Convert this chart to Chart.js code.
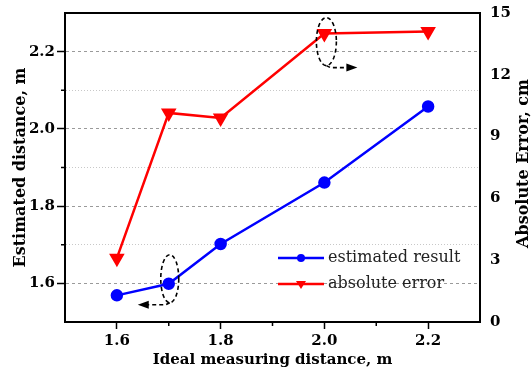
<!DOCTYPE html>
<html>
<head>
<meta charset="utf-8">
<script src="https://cdn.jsdelivr.net/npm/chart.js@4/dist/chart.umd.min.js"></script>
<style>
  html, body { margin: 0; padding: 0; background: #fff; }
  canvas { display: block; }
</style>
</head>
<body>
<canvas id="chart" width="532" height="373"></canvas>
<script>
// ideal distances (m)
const distances = [1.6, 1.7, 1.8, 2.0, 2.2];
// estimated distance (m), left axis
const estimated = [1.569, 1.599, 1.702, 1.861, 2.058];
// absolute error (cm), right axis
const absError = [3.1, 10.15, 9.9, 14.0, 14.1];

const xTicks = [1.6, 1.8, 2.0, 2.2];
const leftTicks = [1.6, 1.8, 2.0, 2.2];
const rightTitle = 'Absolute Error, cm';

const serif = '"DejaVu Serif", serif';
const tickFont = { family: serif, size: 15, weight: 'bold' };
const titleFont = { family: serif, size: 15, weight: 'bold' };
const yTitleFont = { family: serif, size: 16, weight: 'bold' };

const isMajor = (v, list) => list.some(t => Math.abs(t - v) < 1e-6);

// fixed axis widths; no extra room for labels overhanging the ends
const fitVertical = width => s => {
  s.width = width;
  s.paddingTop = 0;
  s.paddingBottom = 0;
};

// frame on top of the plot area, minor ticks, right-hand title
const framePlugin = {
  id: 'frame',
  afterDraw(chart) {
    const { ctx, chartArea: a, scales } = chart;
    ctx.save();
    ctx.strokeStyle = '#000';
    ctx.lineWidth = 2;
    ctx.beginPath();
    ctx.moveTo(a.left, a.top);
    ctx.lineTo(a.right, a.top);
    ctx.stroke();

    ctx.lineWidth = 1.5;
    [1.7, 1.9, 2.1].forEach(v => {
      const x = scales.x.getPixelForValue(v);
      ctx.beginPath();
      ctx.moveTo(x, a.bottom);
      ctx.lineTo(x, a.bottom + 4);
      ctx.stroke();
      const y = scales.y.getPixelForValue(v);
      ctx.beginPath();
      ctx.moveTo(a.left, y);
      ctx.lineTo(a.left - 4, y);
      ctx.stroke();
    });

    // rotated the same way as the left title
    ctx.translate(524, (a.top + a.bottom) / 2 - 4);
    ctx.rotate(-Math.PI / 2);
    ctx.font = 'bold 16px ' + serif;
    ctx.fillStyle = '#000';
    ctx.textAlign = 'center';
    ctx.textBaseline = 'middle';
    ctx.fillText(rightTitle, 0, 0);
    ctx.restore();
  }
};

// dashed ellipses with arrows telling which axis each series uses
const markPlugin = {
  id: 'marks',
  afterDatasetsDraw(chart) {
    const { ctx, scales } = chart;
    const arrowHead = (x, y, dir) => {
      ctx.beginPath();
      ctx.moveTo(x, y);
      ctx.lineTo(x - dir * 11, y - 4);
      ctx.lineTo(x - dir * 11, y + 4);
      ctx.closePath();
      ctx.fill();
    };
    ctx.save();
    ctx.strokeStyle = '#000';
    ctx.fillStyle = '#000';
    ctx.lineWidth = 1.6;
    ctx.setLineDash([4, 3]);

    // estimated result -> left axis
    let cx = scales.x.getPixelForValue(distances[1]) + 1;
    let cy = scales.y.getPixelForValue(estimated[1]) - 5;
    ctx.beginPath();
    ctx.ellipse(cx, cy, 9, 24, 0, 0, Math.PI * 2);
    ctx.stroke();
    ctx.beginPath();
    ctx.moveTo(cx, cy + 24);
    ctx.lineTo(cx - 4, cy + 26);
    ctx.lineTo(cx - 22, cy + 26);
    ctx.stroke();
    ctx.setLineDash([]);
    arrowHead(cx - 32, cy + 26, -1);

    // absolute error -> right axis
    ctx.setLineDash([4, 3]);
    cx = scales.x.getPixelForValue(distances[3]) + 2;
    cy = scales.y2.getPixelForValue(absError[3]) + 8;
    ctx.beginPath();
    ctx.ellipse(cx, cy, 10, 24, 0, 0, Math.PI * 2);
    ctx.stroke();
    ctx.beginPath();
    ctx.moveTo(cx, cy + 24);
    ctx.lineTo(cx + 4, cy + 26);
    ctx.lineTo(cx + 20, cy + 26);
    ctx.stroke();
    ctx.setLineDash([]);
    arrowHead(cx + 31, cy + 26, 1);
    ctx.restore();
  }
};

// legend inside the plot, lower right
const legendPlugin = {
  id: 'innerLegend',
  afterDraw(chart) {
    const { ctx, chartArea: a } = chart;
    const x0 = a.left + 213, x1 = a.left + 259;
    ctx.save();
    ctx.font = '16px ' + serif;
    ctx.textBaseline = 'middle';
    chart.data.datasets.forEach((ds, i) => {
      const y = a.bottom - 64 + i * 26;
      ctx.strokeStyle = ds.borderColor;
      ctx.fillStyle = ds.borderColor;
      ctx.lineWidth = 2.5;
      ctx.beginPath();
      ctx.moveTo(x0, y);
      ctx.lineTo(x1, y);
      ctx.stroke();
      const mx = (x0 + x1) / 2;
      ctx.beginPath();
      if (ds.pointStyle === 'circle') {
        ctx.arc(mx, y, 4, 0, Math.PI * 2);
      } else {
        ctx.moveTo(mx - 5, y - 3);
        ctx.lineTo(mx + 5, y - 3);
        ctx.lineTo(mx, y + 5);
        ctx.closePath();
      }
      ctx.fill();
      ctx.fillStyle = '#222';
      ctx.fillText(ds.label, x1 + 4, y);
    });
    ctx.restore();
  }
};

const ctx = document.getElementById('chart').getContext('2d');
new Chart(ctx, {
  type: 'line',
  data: {
    datasets: [
      {
        label: 'estimated result',
        data: distances.map((d, i) => ({ x: d, y: estimated[i] })),
        yAxisID: 'y',
        borderColor: '#0000ff',
        backgroundColor: '#0000ff',
        borderWidth: 2.5,
        pointStyle: 'circle',
        pointRadius: 5,
        tension: 0
      },
      {
        label: 'absolute error',
        data: distances.map((d, i) => ({ x: d, y: absError[i] })),
        yAxisID: 'y2',
        borderColor: '#ff0000',
        backgroundColor: '#ff0000',
        borderWidth: 2.5,
        pointStyle: 'triangle',
        rotation: 180,
        pointRadius: 6.5,
        tension: 0
      }
    ]
  },
  options: {
    responsive: false,
    animation: false,
    devicePixelRatio: 1,
    layout: { padding: { top: 13 } },
    plugins: { legend: { display: false }, tooltip: { enabled: false } },
    scales: {
      x: {
        type: 'linear',
        min: 1.5,
        max: 2.3,
        afterFit: s => { s.height = 51; s.paddingLeft = 0; s.paddingRight = 0; },
        afterBuildTicks: s => { s.ticks = xTicks.map(v => ({ value: v })); },
        ticks: { font: tickFont, color: '#000', padding: 3, callback: v => v.toFixed(1) },
        grid: { drawOnChartArea: false, tickLength: 7, tickColor: '#000', tickWidth: 1.5 },
        border: { color: '#000', width: 2 },
        title: { display: true, text: 'Ideal measuring distance, m', font: titleFont, color: '#000', padding: { top: 3 } }
      },
      y: {
        position: 'left',
        min: 1.5,
        max: 2.3,
        afterFit: fitVertical(65),
        ticks: {
          stepSize: 0.1,
          font: tickFont,
          color: '#000',
          padding: 2,
          callback: v => isMajor(v, leftTicks) ? v.toFixed(1) : ''
        },
        grid: {
          color: c => isMajor(c.tick.value, leftTicks) ? '#9a9a9a' : '#c8c8c8',
          lineWidth: c => (c.tick.value <= 1.5 || c.tick.value >= 2.3) ? 0 : 1,
          tickLength: 8,
          tickWidth: 1.5,
          tickColor: c => isMajor(c.tick.value, leftTicks) ? '#000' : 'rgba(0,0,0,0)'
        },
        border: {
          color: '#000',
          width: 2,
          dash: c => isMajor(c.tick.value, leftTicks) ? [3, 3] : [1, 2]
        },
        title: { display: true, text: 'Estimated distance, m', font: yTitleFont, color: '#000', padding: { top: 11 } }
      },
      y2: {
        position: 'right',
        min: 0,
        max: 15,
        afterFit: fitVertical(52),
        ticks: { stepSize: 3, font: tickFont, color: '#000', padding: 8 },
        grid: { drawOnChartArea: false, tickLength: 2, tickColor: 'rgba(0,0,0,0)' },
        border: { color: '#000', width: 2 }
      }
    }
  },
  plugins: [framePlugin, markPlugin, legendPlugin]
});
</script>
</body>
</html>
